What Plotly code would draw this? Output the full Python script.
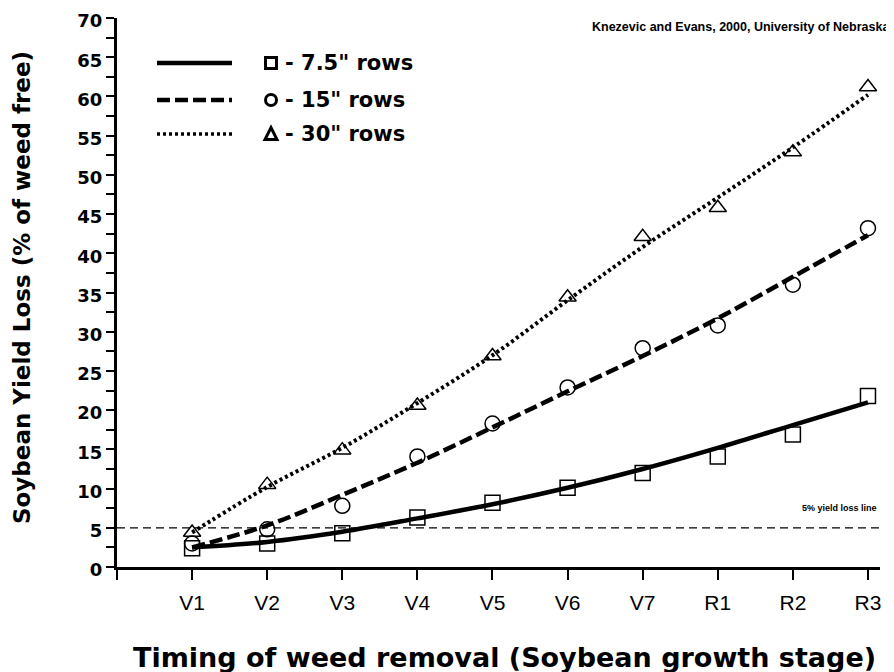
import plotly.graph_objects as go

# ---------------- data ----------------
stages = ["V1", "V2", "V3", "V4", "V5", "V6", "V7", "R1", "R2", "R3"]
stage_pos = [1, 2, 3, 4, 5, 6, 7, 8, 9, 10]

obs_75 = [2.4, 3.0, 4.3, 6.3, 8.2, 10.1, 12.0, 14.1, 16.9, 21.8]
obs_15 = [3.0, 4.8, 7.8, 14.1, 18.3, 22.9, 27.9, 30.8, 36.0, 43.2]
obs_30 = [4.4, 10.5, 14.9, 20.6, 26.9, 34.4, 42.1, 45.8, 52.9, 61.2]

fit_75 = [2.5, 3.2, 4.5, 6.2, 8.0, 10.1, 12.5, 15.2, 18.1, 21.0]
fit_15 = [2.5, 5.3, 9.2, 13.3, 17.8, 22.4, 26.9, 31.7, 37.0, 42.3]
fit_30 = [4.4, 10.2, 15.2, 20.9, 27.0, 34.0, 40.8, 47.1, 53.5, 60.2]

threshold = 5
y_ticks = [0, 5, 10, 15, 20, 25, 30, 35, 40, 45, 50, 55, 60, 65, 70]
legend_labels = ['- 7.5" rows', '- 15" rows', '- 30" rows']

# ---------------- layout helpers (page pixels) ----------------
O = 8                      # browser body margin
PAGE_W, PAGE_H = 894, 672
W, H = PAGE_W - O, PAGE_H - O
PLOT_X0, PLOT_X1 = 117, 880
PLOT_Y0, PLOT_Y1 = 18, 567
L, R = PLOT_X0 - O, PAGE_W - PLOT_X1
T, B = PLOT_Y0 - O, PAGE_H - PLOT_Y1
PW, PH = PLOT_X1 - PLOT_X0, PLOT_Y1 - PLOT_Y0


def xp(px):
    return (px - PLOT_X0) / PW


def yp(py):
    return (PLOT_Y1 - py) / PH


WIDE = "DejaVu Sans"
ARIAL = "Liberation Sans"

fig = go.Figure()

series = [
    (obs_75, fit_75, "solid", 4.5, "square-open"),
    (obs_15, fit_15, "13px,5px", 4.5, "circle-open"),
    (obs_30, fit_30, "3px,3px", 4, "triangle-up-open"),
]
for obs, fit, dash, lw, sym in series:
    fig.add_trace(go.Scatter(x=stage_pos, y=fit, mode="lines", line_shape="spline",
                             line=dict(color="black", width=lw, dash=dash),
                             showlegend=False, hoverinfo="skip"))
    fig.add_trace(go.Scatter(x=stage_pos, y=obs, mode="markers",
                             marker=dict(symbol=sym, size=15, color="black",
                                         line=dict(width=1.5, color="black")),
                             showlegend=False))

# 5% yield loss line
fig.add_shape(type="line", xref="paper", yref="y", x0=0, x1=1, y0=threshold, y1=threshold,
              line=dict(color="black", width=1.3, dash="8px,5px"))
fig.add_annotation(xref="paper", yref="y", x=xp(879), y=threshold, yshift=20,
                   text="<b>5% yield loss line</b>", showarrow=False, xanchor="right",
                   yanchor="middle", font=dict(family=ARIAL, size=9, color="black"))

# source annotation
fig.add_annotation(xref="paper", yref="paper", x=xp(891), y=yp(27), borderpad=0,
                   text="<b>Knezevic and Evans, 2000, University of Nebraska</b>",
                   showarrow=False, xanchor="right", yanchor="middle",
                   font=dict(family=ARIAL, size=12.5, color="black"))

# axis titles
fig.add_annotation(xref="paper", yref="paper", x=xp(22), y=yp(288), textangle=-90,
                   text="<b>Soybean Yield Loss (% of weed free)</b>", showarrow=False,
                   xanchor="center", yanchor="middle",
                   font=dict(family=WIDE, size=23, color="black"))
fig.add_annotation(xref="paper", yref="paper", x=xp(504), y=yp(657),
                   text="<b>Timing of weed removal (Soybean growth stage)</b>", showarrow=False,
                   xanchor="center", yanchor="middle",
                   font=dict(family=WIDE, size=27, color="black"))

# custom legend
legend_rows = [63, 100, 134]
legend_dash = ["solid", "13px,5px", "3px,3px"]
legend_width = [4.5, 4.5, 3.5]
for i, (row, lab) in enumerate(zip(legend_rows, legend_labels)):
    fig.add_shape(type="line", xref="paper", yref="paper", x0=xp(157), x1=xp(232),
                  y0=yp(row), y1=yp(row),
                  line=dict(color="black", width=legend_width[i], dash=legend_dash[i]))
    cx = 271
    s = 5.5
    if i == 0:
        fig.add_shape(type="rect", xref="paper", yref="paper", x0=xp(cx - s), x1=xp(cx + s),
                      y0=yp(row + s), y1=yp(row - s), line=dict(color="black", width=3))
    elif i == 1:
        fig.add_shape(type="circle", xref="paper", yref="paper", x0=xp(cx - s), x1=xp(cx + s),
                      y0=yp(row + s), y1=yp(row - s), line=dict(color="black", width=3))
    else:
        path = "M {} {} L {} {} L {} {} Z".format(xp(cx - s - 0.5), yp(row + s), xp(cx + s + 0.5),
                                                  yp(row + s), xp(cx), yp(row - s - 1))
        fig.add_shape(type="path", xref="paper", yref="paper", path=path,
                      line=dict(color="black", width=3))
    fig.add_annotation(xref="paper", yref="paper", x=xp(283), y=yp(row), text="<b>" + lab + "</b>",
                       showarrow=False, xanchor="left", yanchor="middle",
                       font=dict(family=WIDE, size=21, color="black"))

fig.update_layout(
    width=W, height=H,
    margin=dict(l=L, r=R, t=T, b=B),
    plot_bgcolor="white", paper_bgcolor="white",
    font=dict(family=ARIAL, color="black"),
    xaxis=dict(range=[0, 10.16], tickvals=[0] + stage_pos, ticktext=[""] + stages,
               ticks="outside", ticklen=10, tickwidth=2, tickcolor="black",
               showline=True, linecolor="black", linewidth=3, showgrid=False, zeroline=False,
               automargin=False, ticklabelstandoff=5, ticklabeloverflow="allow",
               tickfont=dict(family=ARIAL, size=21, color="black")),
    yaxis=dict(range=[0, 70], tickvals=y_ticks, ticktext=["<b>%d</b>" % v for v in y_ticks],
               ticks="outside", ticklen=8, tickwidth=2, tickcolor="black",
               minor=dict(dtick=2.5, tick0=0, ticks="outside", ticklen=8, tickwidth=2, tickcolor="black"),
               showline=True, linecolor="black", linewidth=3, showgrid=False, zeroline=False,
               automargin=False, ticklabeloverflow="allow", ticklabelshift=3,
               tickfont=dict(family=WIDE, size=18, color="black")),
)

fig.write_html("out.html")
